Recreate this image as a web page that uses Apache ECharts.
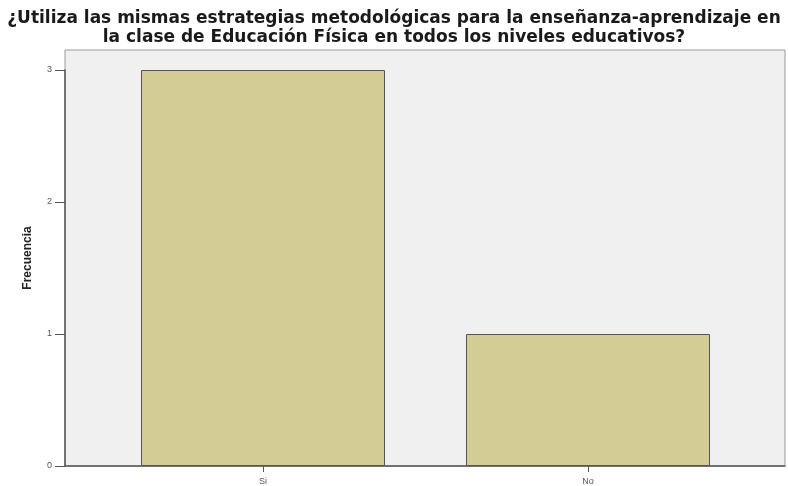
<!DOCTYPE html>
<html>
<head>
<meta charset="utf-8">
<script src="https://cdn.jsdelivr.net/npm/echarts@6/dist/echarts.min.js"></script>
<style>
html,body{margin:0;padding:0;background:#fff;}
#chart{width:788px;height:486px;}
</style>
</head>
<body>
<div id="chart"></div>
<script>
const titleLines = ['¿Utiliza las mismas estrategias metodológicas para la enseñanza-aprendizaje en', 'la clase de Educación Física en todos los niveles educativos?'];
const categories = ['Si', 'No'];
const frequencies = [3, 1];
const yMax = 3;
const yInterval = 1;
const yAxisName = 'Frecuencia';

const chart = echarts.init(document.getElementById('chart'), null, {renderer: 'canvas'});
const lbl = {fontFamily: 'Liberation Sans', fontSize: 9, color: '#555'};

chart.setOption({
  animation: false,
  backgroundColor: '#ffffff',
  title: {
    text: titleLines.join('\n'),
    left: 'center',
    top: 4,
    textStyle: {fontFamily: 'DejaVu Sans', fontWeight: 'bold', fontSize: 17, lineHeight: 19, color: '#1a1a1a'}
  },
  grid: [
    {left: 65, right: 3, top: 50, bottom: 20, show: true, backgroundColor: '#f0f0f0', borderColor: '#9a9a9a', borderWidth: 1},
    {left: 100.5, right: 37.5, top: 70, bottom: 20}
  ],
  xAxis: [
    {gridIndex: 0, type: 'value', min: 0, max: 1, axisLine: {show: true, onZero: false, lineStyle: {color: '#555', width: 1.5}},
      axisTick: {show: false}, axisLabel: {show: false}, splitLine: {show: false}},
    {gridIndex: 1, type: 'category', data: categories, boundaryGap: true,
      axisLine: {show: false},
      axisTick: {show: true, alignWithLabel: true, length: 6, lineStyle: {color: '#555'}},
      axisLabel: Object.assign({margin: 11}, lbl),
      splitLine: {show: false}}
  ],
  yAxis: [
    {gridIndex: 0, type: 'value', min: 0, max: 1,
      name: yAxisName, nameLocation: 'middle', nameGap: 31, nameRotate: 90,
      nameTextStyle: {fontFamily: 'Liberation Sans', fontWeight: 'bold', fontSize: 12, color: '#222'},
      axisLine: {show: false}, axisTick: {show: false}, axisLabel: {show: false}, splitLine: {show: false}},
    {gridIndex: 1, type: 'value', min: 0, max: yMax, interval: yInterval, offset: 35.5,
      axisLine: {show: true, lineStyle: {color: '#555', width: 1.5}},
      axisTick: {show: true, length: 10, lineStyle: {color: '#555'}},
      axisLabel: Object.assign({margin: 13}, lbl),
      splitLine: {show: false}}
  ],
  series: [{
    type: 'bar',
    xAxisIndex: 1,
    yAxisIndex: 1,
    data: frequencies,
    barWidth: 244,
    itemStyle: {color: '#d3cd95', borderColor: '#555', borderWidth: 1}
  }]
});
</script>
</body>
</html>
